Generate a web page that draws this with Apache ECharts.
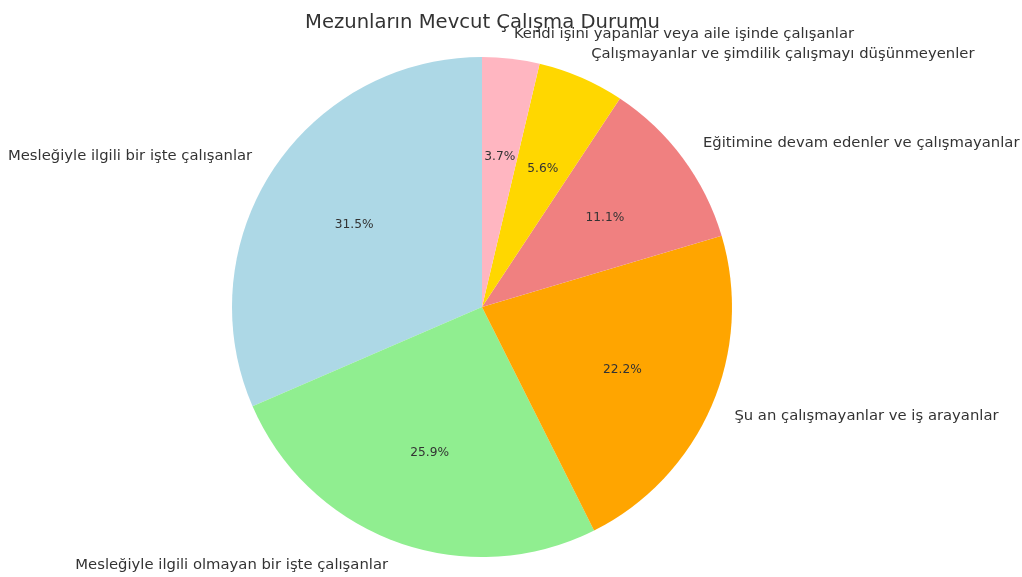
<!DOCTYPE html>
<html>
<head>
<meta charset="utf-8">
<script src="https://cdn.jsdelivr.net/npm/echarts@6/dist/echarts.min.js"></script>
<style>html,body{margin:0;padding:0;background:#fff}#c{width:1022px;height:577px}</style>
</head>
<body>
<div id="c"></div>
<script>
const titleText = 'Mezunların Mevcut Çalışma Durumu';
const categories = [
  'Mesleğiyle ilgili bir işte çalışanlar',
  'Mesleğiyle ilgili olmayan bir işte çalışanlar',
  'Şu an çalışmayanlar ve iş arayanlar',
  'Eğitimine devam edenler ve çalışmayanlar',
  'Çalışmayanlar ve şimdilik çalışmayı düşünmeyenler',
  'Kendi işini yapanlar veya aile işinde çalışanlar'
];
const values = [31.5, 25.9, 22.2, 11.1, 5.6, 3.7];
const colors = ['#ADD8E6', '#90EE90', '#FFA500', '#F08080', '#FFD700', '#FFB6C1'];

const font = 'DejaVu Sans';
const chart = echarts.init(document.getElementById('c'), null, {renderer: 'canvas'});
const data = categories.map((n, i) => ({name: n, value: values[i], itemStyle: {color: colors[i]}}));
const dataT = categories.map((n, i) => ({name: n, value: values[i]}));
chart.setOption({
  animation: false,
  title: {
    text: titleText, left: 300, top: 8,
    textStyle: {fontFamily: font, fontSize: 19.6, fontWeight: 'normal', color: '#333'}
  },
  series: [
    {
      type: 'pie', center: [482, 307], radius: [0, 250],
      startAngle: 90, clockwise: false, avoidLabelOverlap: false,
      data: data,
      label: {
        show: true, position: 'outside', formatter: '{b}',
        fontFamily: font, fontSize: 14.8, color: '#333',
        distanceToLabelLine: 0
      },
      labelLine: {show: false, length: 25, length2: 0},
      emphasis: {disabled: true}
    },
    {
      type: 'pie', center: [482, 307], radius: [100, 200],
      startAngle: 90, clockwise: false, avoidLabelOverlap: false, silent: true,
      data: dataT,
      itemStyle: {color: 'rgba(0,0,0,0)'},
      label: {
        show: true, position: 'inside', formatter: '{d}%',
        fontFamily: font, fontSize: 12.2, color: '#333', offset: [0, 2]
      },
      labelLine: {show: false},
      emphasis: {disabled: true}
    }
  ]
});
</script>
</body>
</html>
